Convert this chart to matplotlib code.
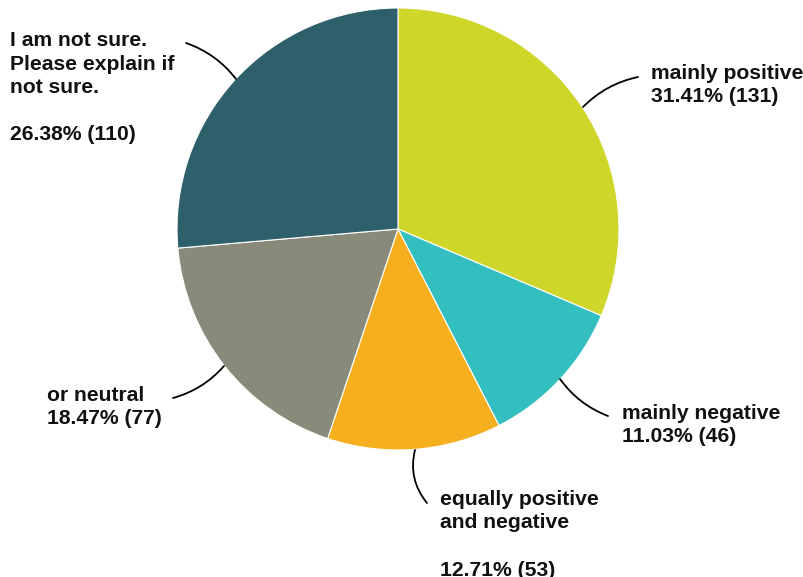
import matplotlib.pyplot as plt

# slice data
labels = ['mainly positive', 'mainly negative', 'equally positive\nand negative',
          'or neutral', 'I am not sure.\nPlease explain if\nnot sure.']
counts = [131, 46, 53, 77, 110]
colors = ['#CED62A', '#33BEC0', '#F6AF1F', '#898A79', '#2E606C']

# label text positions (pixels, top-left) and leader line endpoints
text_pos = [(651, 64), (622, 404), (440, 490), (47, 386), (10, 31)]
line_from = [(583, 107), (560, 379), (415, 450), (224, 366), (236, 79)]
line_to = [(638, 77), (608, 416), (427, 503), (173, 398), (186, 43)]
rads = [-0.15, 0.15, 0.25, -0.15, 0.15]
seps = ['\n', '\n', '\n\n', '\n', '\n\n']

H = 577
total = sum(counts)

fig = plt.figure(figsize=(8.04, 5.77), dpi=100)
ax = fig.add_axes([0, 0, 1, 1])

ax.pie(counts, colors=colors, startangle=90, counterclock=False,
       center=(398, H - 229), radius=221,
       wedgeprops=dict(edgecolor='white', linewidth=0.8))
ax.set_xlim(0, 804)
ax.set_ylim(0, H)
ax.axis('off')

for lab, c, tp, a, b, r, s in zip(labels, counts, text_pos, line_from, line_to, rads, seps):
    txt = f'{lab}{s}{c / total * 100:.2f}% ({c})'
    ax.text(tp[0], H - tp[1], txt, ha='left', va='top', fontsize=15.2,
            fontweight='bold', family='Liberation Sans', color='#111111',
            linespacing=1.3)
    ax.annotate('', xy=(b[0], H - b[1]), xytext=(a[0], H - a[1]),
                arrowprops=dict(arrowstyle='-', color='black', lw=1.3,
                                connectionstyle=f'arc3,rad={r}',
                                shrinkA=0, shrinkB=0))

fig.savefig('out.png', dpi=100)
